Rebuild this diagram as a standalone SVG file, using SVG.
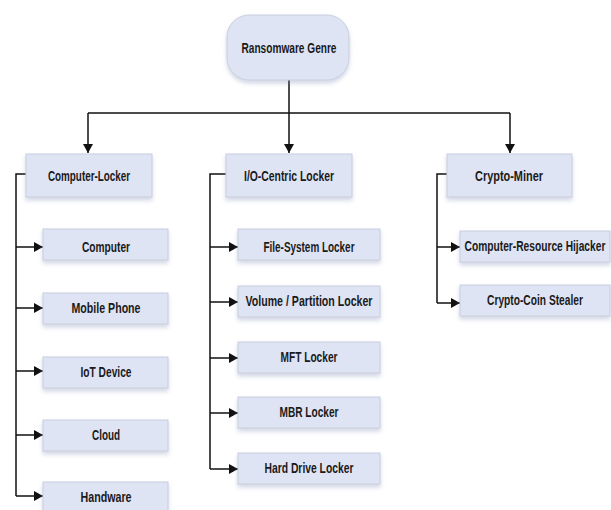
<svg xmlns="http://www.w3.org/2000/svg" width="611" height="510" viewBox="0 0 611 510">
<defs>
<filter id="sh" x="-10%" y="-20%" width="120%" height="160%">
<feDropShadow dx="0" dy="3" stdDeviation="2" flood-color="#7f8fb8" flood-opacity="0.35"/>
</filter>
<marker id="ah" markerWidth="10" markerHeight="10" refX="9" refY="5" orient="auto" markerUnits="userSpaceOnUse">
<path d="M0,0 L9,5 L0,10 Z" fill="#111"/>
</marker>
</defs>
<style>
.box{fill:#dfe4f4;stroke:#c9cedd;stroke-width:1;filter:url(#sh)}
.t{font-family:"Liberation Sans",Arial,sans-serif;font-size:14px;font-weight:bold;fill:#1a1a1a;text-anchor:middle}
.c{fill:none;stroke:#111;stroke-width:1.5}
</style>
<rect width="611" height="510" fill="#fff"/>
<g id="connectors">
<path class="c" d="M289,80 V113 M88,113 H510"/>
<path class="c" d="M88,113 V153" marker-end="url(#ah)"/>
<path class="c" d="M289,113 V153" marker-end="url(#ah)"/>
<path class="c" d="M510,113 V153" marker-end="url(#ah)"/>
<path class="c" d="M26,174 H16 V496"/>
<path class="c" d="M16,247 H43" marker-end="url(#ah)"/>
<path class="c" d="M16,308 H43" marker-end="url(#ah)"/>
<path class="c" d="M16,371 H43" marker-end="url(#ah)"/>
<path class="c" d="M16,435 H43" marker-end="url(#ah)"/>
<path class="c" d="M16,496 H43" marker-end="url(#ah)"/>
<path class="c" d="M226,174 H210 V469"/>
<path class="c" d="M210,247 H238" marker-end="url(#ah)"/>
<path class="c" d="M210,302 H238" marker-end="url(#ah)"/>
<path class="c" d="M210,358 H238" marker-end="url(#ah)"/>
<path class="c" d="M210,413 H238" marker-end="url(#ah)"/>
<path class="c" d="M210,469 H238" marker-end="url(#ah)"/>
<path class="c" d="M447,174 H437 V303"/>
<path class="c" d="M437,247 H460" marker-end="url(#ah)"/>
<path class="c" d="M437,303 H460" marker-end="url(#ah)"/>
</g>
<g id="root"><rect class="box" x="227" y="15" width="122" height="65" rx="22"/><text class="t" x="289" y="53" textLength="95" lengthAdjust="spacingAndGlyphs">Ransomware Genre</text></g>
<g id="computer-locker"><rect class="box" x="26" y="154" width="126" height="43"/><text class="t" x="89" y="181" textLength="82" lengthAdjust="spacingAndGlyphs">Computer-Locker</text></g>
<g id="io-locker"><rect class="box" x="226" y="154" width="126" height="43"/><text class="t" x="289" y="181" textLength="90" lengthAdjust="spacingAndGlyphs">I/O-Centric Locker</text></g>
<g id="crypto-miner"><rect class="box" x="447" y="154" width="125" height="43"/><text class="t" x="509" y="181" textLength="68" lengthAdjust="spacingAndGlyphs">Crypto-Miner</text></g>
<g id="computer"><rect class="box" x="43" y="229" width="125" height="31"/><text class="t" x="106" y="252" textLength="48" lengthAdjust="spacingAndGlyphs">Computer</text></g>
<g id="mobile"><rect class="box" x="43" y="293" width="125" height="31"/><text class="t" x="106" y="313" textLength="69" lengthAdjust="spacingAndGlyphs">Mobile Phone</text></g>
<g id="iot"><rect class="box" x="43" y="357" width="125" height="31"/><text class="t" x="106" y="377" textLength="51" lengthAdjust="spacingAndGlyphs">IoT Device</text></g>
<g id="cloud"><rect class="box" x="43" y="420" width="125" height="31"/><text class="t" x="106" y="440" textLength="28" lengthAdjust="spacingAndGlyphs">Cloud</text></g>
<g id="handware"><rect class="box" x="43" y="482" width="125" height="31"/><text class="t" x="106" y="502" textLength="51" lengthAdjust="spacingAndGlyphs">Handware</text></g>
<g id="fs-locker"><rect class="box" x="238" y="229" width="142" height="31"/><text class="t" x="309" y="252" textLength="91" lengthAdjust="spacingAndGlyphs">File-System Locker</text></g>
<g id="vol-locker"><rect class="box" x="238" y="286" width="142" height="31"/><text class="t" x="309" y="306" textLength="127" lengthAdjust="spacingAndGlyphs">Volume / Partition Locker</text></g>
<g id="mft-locker"><rect class="box" x="238" y="342" width="142" height="31"/><text class="t" x="309" y="362" textLength="57" lengthAdjust="spacingAndGlyphs">MFT Locker</text></g>
<g id="mbr-locker"><rect class="box" x="238" y="397" width="142" height="31"/><text class="t" x="309" y="417" textLength="59" lengthAdjust="spacingAndGlyphs">MBR Locker</text></g>
<g id="hd-locker"><rect class="box" x="238" y="453" width="142" height="31"/><text class="t" x="309" y="473" textLength="89" lengthAdjust="spacingAndGlyphs">Hard Drive Locker</text></g>
<g id="hijacker"><rect class="box" x="460" y="231" width="150" height="31"/><text class="t" transform="translate(535,251) scale(0.73,1)" x="0" y="0">Computer-Resource Hijacker</text></g>
<g id="stealer"><rect class="box" x="460" y="285" width="150" height="31"/><text class="t" transform="translate(535,305) scale(0.73,1)" x="0" y="0">Crypto-Coin Stealer</text></g>
</svg>
